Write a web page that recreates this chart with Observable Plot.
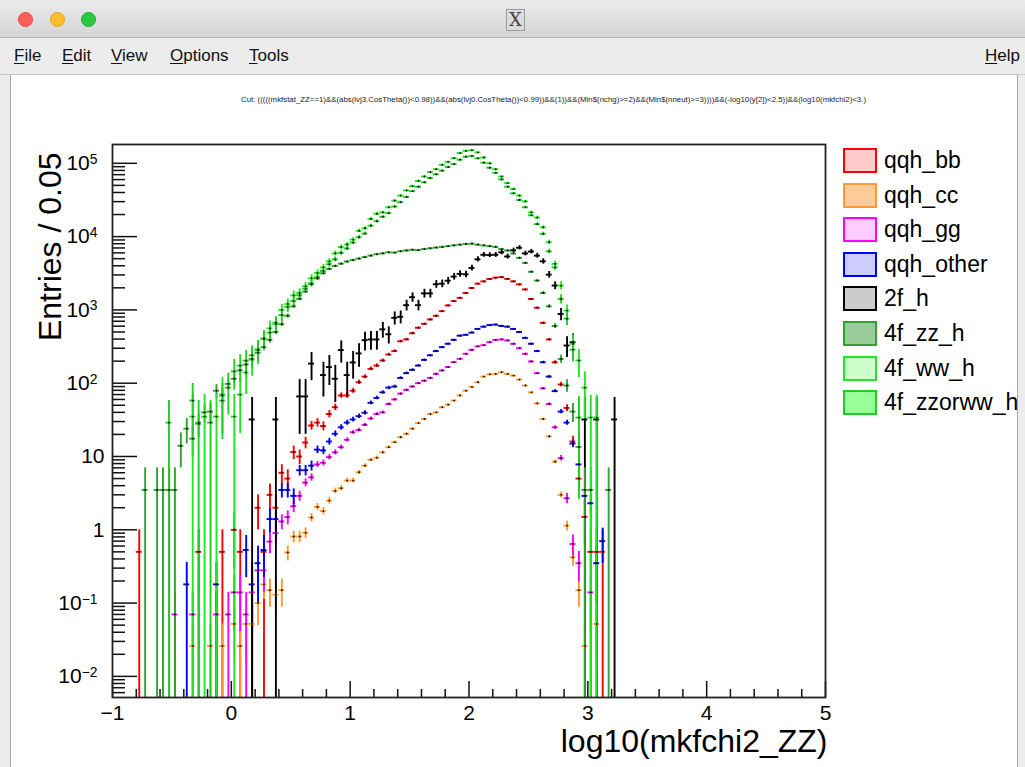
<!DOCTYPE html>
<html>
<head>
<meta charset="utf-8">
<script src="https://cdn.jsdelivr.net/npm/d3@7"></script>
<script src="https://cdn.jsdelivr.net/npm/@observablehq/plot@0.6"></script>
<style>
  body { margin: 0; background: #ececec; }
  #win { position: relative; width: 1025px; height: 767px; overflow: hidden; background: #ececec;
         font-family: "Liberation Sans", Arial, Helvetica, sans-serif; }
  #titlebar { position: absolute; left: 0; top: 0; width: 1025px; height: 37px;
              background: linear-gradient(#ebebeb, #d5d5d5); border-bottom: 1px solid #b4b4b4; }
  .light { position: absolute; top: 12px; width: 15px; height: 15px; border-radius: 50%; box-sizing: border-box; }
  #xicon { position: absolute; left: 506px; top: 9px; width: 19px; height: 22px; box-sizing: border-box;
           border: 1px solid #9a9a9a; background: #dcdcdc; font-family: "DejaVu Serif", serif; font-size: 18px;
           line-height: 20px; text-align: center; color: #444; }
  #menubar { position: absolute; left: 0; top: 38px; width: 1025px; height: 36px; background: #ececec;
             border-bottom: 1px solid #c6c6c6; }
  .menu { position: absolute; top: 8px; font-size: 17px; color: #111; }
  .menu u { text-decoration: underline; text-underline-offset: 2px; }
  #canvas { position: absolute; left: 10px; top: 75px; width: 1006px; height: 692px; background: #fff;
            border-left: 1px solid #a8a8a8; border-right: 1px solid #a8a8a8; }
  #chart { position: absolute; left: 1px; top: 0; }
  #cut { position: absolute; left: 230px; top: 20px; }
  .leg { position: absolute; left: 832px; height: 25px; }
  .leg .box { position: absolute; left: 0; top: 0; width: 34px; height: 25px; box-sizing: border-box; border: 2px solid; }
  .leg .lab { position: absolute; left: 41px; top: -2px; font-size: 23px; line-height: 28px; color: #000; white-space: nowrap; }
</style>
</head>
<body>
<div id="win">
  <div id="titlebar">
    <div class="light" style="left:18px;background:#fc5f57;border:1px solid #de4a42"></div>
    <div class="light" style="left:50px;background:#fdbc2e;border:1px solid #dea123"></div>
    <div class="light" style="left:81px;background:#28c940;border:1px solid #1aab2f"></div>
    <div id="xicon">X</div>
  </div>
  <div id="menubar">
    <span class="menu" style="left:14px"><u>F</u>ile</span>
    <span class="menu" style="left:62px"><u>E</u>dit</span>
    <span class="menu" style="left:111px"><u>V</u>iew</span>
    <span class="menu" style="left:170px"><u>O</u>ptions</span>
    <span class="menu" style="left:249px"><u>T</u>ools</span>
    <span class="menu" style="left:985px"><u>H</u>elp</span>
  </div>
  <div id="canvas">
    <div id="chart"></div>
    <svg id="cut" width="650" height="12"></svg>
    <div id="legend"></div>
  </div>
</div>
<script>
// Histogram bins: width 0.05 in log10(mkfchi2_ZZ), centres from -0.825 to 3.225
const binWidth = 0.05;
const binCenters = d3.range(82).map(i => +(-0.825 + binWidth * i).toFixed(3));

const seriesNames = ["qqh_bb", "qqh_cc", "qqh_gg", "qqh_other", "2f_h", "4f_zz_h", "4f_ww_h", "4f_zzorww_h"];
const lineColors  = ["#ff0000", "#ff9933", "#ff00ff", "#0000ff", "#000000", "#33a033", "#22e622", "#22cc22"];
const fillColors  = ["#ffcccc", "#ffcc99", "#ffccff", "#ccccff", "#cccccc", "#99cc99", "#ccffcc", "#99ff99"];
// weight of a single event in each sample (sets the size of the error bars)
const eventWeights = [0.5, 0.026, 0.07, 0.178, 32, 3.5, 35, 29];

// Entries per bin, one value per bin centre
const qqh_bb = [
  0, 0.5, 0, 0, 0, 0, 0, 0, 0, 0,
  0, 0.5, 0, 0, 0, 0.5, 0, 1, 0.5, 0,
  0, 2, 0.5, 3, 2, 6, 5, 11.5, 10, 15.5,
  26.5, 29, 26, 38, 47, 68, 68, 79, 103, 123,
  157, 174, 204, 246, 274, 373, 396, 480, 570, 645,
  740, 830, 960, 1150, 1320, 1460, 1700, 1990, 2280, 2450,
  2640, 2750, 2800, 2650, 2450, 2230, 1900, 1410, 1070, 665,
  395, 193, 96, 46, 16, 5, 1.5, 0.5, 0.5, 0.5,
  0, 0];
const qqh_cc = [
  0, 0, 0, 0, 0, 0, 0, 0, 0, 0,
  0.026, 0, 0, 0.026, 0, 0.026, 0, 0.052, 0.026, 0.052,
  0.052, 0.10, 0.18, 0.15, 0.13, 0.15, 0.49, 0.81, 0.81, 0.91,
  1.47, 2.05, 1.8, 2.5, 3.4, 3.7, 4.7, 4.7, 6.1, 7.5,
  9.0, 9.6, 11.4, 13.4, 15.7, 18.3, 20.4, 24, 28.5, 32.5,
  38, 40, 47, 51, 58, 68, 79, 89, 103, 123,
  132, 134, 141, 134, 127, 112, 93, 75, 53, 32.5,
  18.8, 8.5, 3.0, 1.14, 0.42, 0.15, 0.026, 0, 0.052, 0,
  0, 0];
const qqh_gg = [
  0, 0, 0, 0, 0, 0, 0, 0.07, 0, 0,
  0.07, 0, 0, 0, 0.07, 0, 0.07, 0.14, 0.14, 0.07,
  0.14, 0.28, 0.28, 0.69, 0.9, 1.3, 1.49, 2.1, 2.9, 4.4,
  5.2, 7.8, 8.2, 9.8, 11.4, 13.4, 16.9, 21.4, 23, 27,
  33, 38, 40, 52, 60, 72, 81, 90, 100, 108,
  118, 134, 149, 166, 194, 215, 252, 285, 318, 330,
  362, 390, 395, 383, 345, 300, 252, 198, 137, 85,
  52, 25, 9.5, 2.7, 0.64, 0.35, 0, 0.14, 0, 0,
  0, 0];
const qqh_other = [
  0, 0, 0, 0, 0, 0, 0, 0, 0, 0.18,
  0, 0, 0, 0, 0.18, 0, 0, 0, 0, 0.53,
  0.18, 0.35, 0.53, 1.4, 1.4, 3.5, 3.5, 2.9, 6.5, 6.5,
  7.5, 12.4, 12.1, 16, 20.4, 25, 29, 32, 35.5, 39.5,
  54, 63, 75, 87, 90, 118, 137, 152, 174, 208,
  240, 274, 310, 345, 390, 445, 457, 490, 550, 590,
  620, 630, 605, 590, 550, 500, 415, 345, 274, 193,
  123, 78, 41, 29, 15, 7.8, 2.9, 2.3, 0.35, 0.7,
  0, 0];
const f2_h = [
  0, 0, 0, 0, 0, 0, 0, 0, 0, 0,
  0, 0, 0, 0, 0, 0, 0, 0, 0, 0,
  32, 0, 0, 0, 32, 0, 0, 0, 66, 66,
  185, 0, 129, 166, 115, 283, 129, 192, 255, 386,
  395, 395, 543, 465, 780, 805, 1160, 1490, 1160, 1680,
  1680, 2240, 2280, 2500, 2850, 3100, 3060, 3730, 4900, 5650,
  5600, 5650, 6100, 5350, 6500, 7050, 5900, 6250, 5500, 4600,
  3030, 2150, 880, 327, 362, 0, 32, 0, 32, 0,
  0, 32];
const f4_zz_h = [
  0, 0, 3.5, 0, 3.5, 3.5, 3.5, 3.5, 14, 24,
  17.5, 28, 40, 41, 79, 68, 98, 115, 150, 180,
  215, 260, 310, 390, 500, 640, 830, 1120, 1410, 1780,
  2240, 2690, 3160, 3630, 3980, 4270, 4570, 4790, 5010, 5250,
  5500, 5750, 5890, 6100, 6050, 6310, 6460, 6610, 6550, 6760,
  6920, 7080, 7240, 7410, 7590, 7760, 7940, 8000, 7760, 7590,
  7410, 7240, 6760, 6460, 5890, 5130, 4370, 3310, 2510, 1700,
  1120, 603, 214, 93, 41, 13.5, 3.5, 3.5, 0, 0,
  3.5, 0];
const f4_ww_h = [
  0, 0, 0, 0, 0, 0, 0, 0, 0, 0,
  35, 0, 35, 0, 35, 70, 0, 35, 70, 140,
  210, 280, 400, 560, 640, 1000, 1200, 1580, 1700, 2100,
  2700, 3200, 3800, 4600, 5900, 7200, 7800, 9100, 12000, 13000,
  17400, 20500, 21400, 25100, 30900, 36300, 42700, 48900, 57500, 66100,
  75900, 83200, 95500, 104700, 117500, 138000, 147900, 151000, 141000, 120000,
  100000, 83000, 66000, 53700, 44700, 36300, 30200, 21400, 18200, 13400,
  8400, 4250, 2150, 980, 345, 204, 87, 34, 34, 0,
  0, 0];
const f4_zzorww_h = [
  0, 0, 0, 0, 0, 0, 29, 0, 0, 0,
  58, 29, 0, 29, 0, 58, 87, 145, 174, 203,
  240, 290, 410, 490, 670, 850, 1100, 1320, 1580, 1950,
  2300, 2800, 3400, 4200, 4900, 6000, 6900, 8300, 9800, 11000,
  14100, 16200, 18600, 20900, 25700, 29500, 34700, 41700, 47900, 55000,
  63100, 70800, 79400, 89100, 97700, 112000, 123000, 126000, 117000, 102000,
  87000, 74100, 60300, 47900, 38900, 31600, 25100, 19500, 14800, 10900,
  6300, 3800, 1410, 760, 287, 34, 0, 0, 0, 0,
  0, 0];

const seriesValues = [qqh_bb, qqh_cc, qqh_gg, qqh_other, f2_h, f4_zz_h, f4_ww_h, f4_zzorww_h];

// Axis ticks
const yDomain = [5.15e-3, 1.806e5];
const yMajor = [1e-2, 1e-1, 1, 10, 1e2, 1e3, 1e4, 1e5];
const yMajorLabels = ["10^−2", "10^−1", "1", "10", "10^2", "10^3", "10^4", "10^5"];
const yMinor = [];
for (const d of [1e-3, 1e-2, 1e-1, 1, 10, 1e2, 1e3, 1e4, 1e5])
  for (let m = 2; m <= 9; m++) { const t = m * d; if (t > yDomain[0] && t < yDomain[1]) yMinor.push(t); }
const xMajor = [-1, 0, 1, 2, 3, 4, 5];
const xMinor = d3.range(-1, 5.0001, 0.2).map(v => +v.toFixed(1)).filter(v => !Number.isInteger(v));

// Flatten into one row per filled bin with its error bar
const rows = [];
seriesValues.forEach((vals, s) => {
  vals.forEach((v, j) => {
    if (!(v > 0)) return;
    const err = Math.sqrt(v * eventWeights[s]);
    rows.push({
      series: seriesNames[s],
      x: binCenters[j],
      x1: binCenters[j] - binWidth / 2,
      x2: binCenters[j] + binWidth / 2,
      v,
      lo: v - err > 0 ? v - err : yDomain[0] / 100,
      hi: v + err
    });
  });
});

const font = "'Liberation Sans', Arial, Helvetica, sans-serif";
const chart = Plot.plot({
  width: 1004,
  height: 692,
  marginLeft: 100,
  marginRight: 191,
  marginTop: 69,
  marginBottom: 70,
  style: {fontFamily: font, background: "white", color: "#000", overflow: "visible"},
  x: {domain: [-1, 5], label: null},
  y: {type: "log", domain: yDomain, clamp: true, label: null},
  color: {domain: seriesNames, range: lineColors},
  marks: [
    Plot.ruleX(rows, {x: "x", y1: "lo", y2: "hi", stroke: "series", strokeWidth: 1.9}),
    Plot.ruleY(rows, {y: "v", x1: "x1", x2: "x2", stroke: "series", strokeWidth: 1.9}),
    Plot.dot(rows, {x: "x", y: "v", r: 0.9, fill: "#000", stroke: null}),
    // inward ticks, ROOT style
    Plot.axisY(yMajor, {anchor: "left", tickSize: -25, fill: "none", label: null, stroke: "#111", strokeWidth: 1.5}),
    Plot.axisY(yMinor, {anchor: "left", tickSize: -13, fill: "none", label: null, stroke: "#111", strokeWidth: 1.5}),
    Plot.axisY(yMajor, {anchor: "left", tickSize: 0, tickPadding: 8, fontSize: 21, label: null,
      tickFormat: d => yMajorLabels[yMajor.indexOf(d)]}),
    Plot.axisX(xMajor, {anchor: "bottom", tickSize: -16, fill: "none", label: null, stroke: "#111", strokeWidth: 1.5}),
    Plot.axisX(xMinor, {anchor: "bottom", tickSize: -8, fill: "none", label: null, stroke: "#111", strokeWidth: 1.5}),
    Plot.axisX(xMajor, {anchor: "bottom", tickSize: 0, tickPadding: 8, fontSize: 21, label: null,
      tickFormat: d => d < 0 ? "−" + Math.abs(d) : String(d)}),
    Plot.frame({stroke: "#222", strokeWidth: 1.8}),
    Plot.text(["Entries / 0.05"], {text: d => d, frameAnchor: "top-left", rotate: -90, textAnchor: "end",
      lineAnchor: "bottom", dx: -52, dy: 8, fontSize: 32}),
    Plot.text(["log10(mkfchi2_ZZ)"], {text: d => d, frameAnchor: "bottom-right", textAnchor: "end",
      lineAnchor: "bottom", dx: 2, dy: 54, fontSize: 32})
  ]
});

// Turn "10^k" tick labels into superscripts
d3.select(chart).selectAll('g[aria-label="y-axis tick label"] text').each(function () {
  const m = this.textContent.match(/^10\^(.+)$/);
  if (!m) return;
  const t = d3.select(this);
  t.text("10").attr("x", -7);
  t.append("tspan").attr("dy", "-0.45em").attr("font-size", "0.66em").text(m[1]);
});
document.getElementById("chart").appendChild(chart);

// Cut string printed above the frame
const cutText = "Cut: (((((mkfstat_ZZ==1)&&(abs(lvj3.CosTheta())<0.98))&&(abs(lvj0.CosTheta())<0.99))&&(1))&&(Min$(nchg)>=2)&&(Min$(nneut)>=3))))&&(-log10(y[2])<2.5))&&(log10(mkfchi2)<3.)";
d3.select("#cut").append("text")
  .attr("x", 0).attr("y", 7)
  .attr("font-family", font).attr("font-size", 7.5)
  .attr("textLength", 625).attr("lengthAdjust", "spacingAndGlyphs")
  .attr("fill", "#222")
  .text(cutText);

// Legend to the right of the frame
const legend = d3.select("#legend");
seriesNames.forEach((name, i) => {
  const row = legend.append("div").attr("class", "leg").style("top", (73 + i * 34.6) + "px");
  row.append("div").attr("class", "box")
    .style("background", fillColors[i]).style("border-color", lineColors[i]);
  row.append("div").attr("class", "lab").text(name);
});
</script>
</body>
</html>
